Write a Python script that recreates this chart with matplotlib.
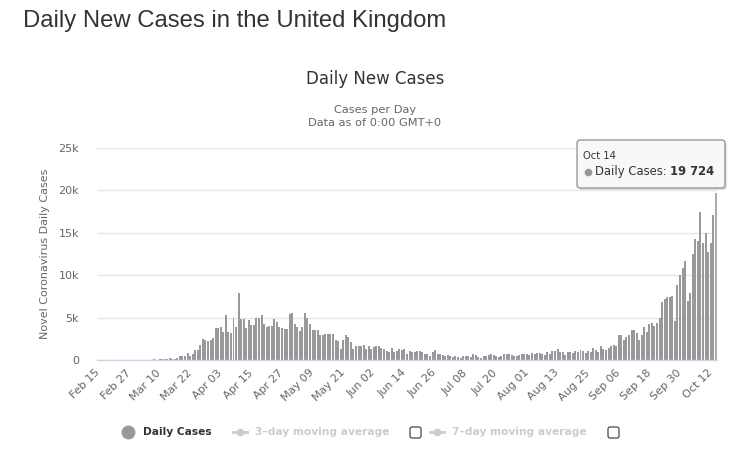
import numpy as np
import pandas as pd
import matplotlib.pyplot as plt
from matplotlib.patches import FancyBboxPatch

# Daily new cases, UK, Feb 15 - Oct 14
dates = pd.date_range("2020-02-15", "2020-10-14", freq="D")

cases_feb_mar = [0, 0, 0, 0, 0, 0, 0, 0, 0, 4, 0, 0, 2, 5, 3,
                 12, 4, 11, 34, 29, 48, 45, 69, 43, 62, 77, 60, 110, 250, 110, 60, 250]
cases_spring = [500, 500, 500, 800, 500, 700, 1200, 1200, 1800, 2500,
                2300, 2200, 2300, 2600, 3800, 3800, 3900, 3300, 5300, 3300,
                3200, 4900, 3900, 7900, 4800, 4800, 3800, 4700, 4100, 4100,
                5000, 4900, 5300, 4200, 3900, 4000, 4000, 4800, 4500, 3900,
                3800, 3600, 3600, 5400, 5600, 4300, 3900, 3400, 3900, 5500,
                4900, 4200, 3500, 3500, 3500, 3000, 2900, 3100, 3100, 3100,
                3100, 2400, 2200, 1300, 2300, 2900, 2700, 2100, 1300, 1700,
                1700, 1700, 1800, 1300, 1700]
cases_summer = [1300, 1500, 1600, 1600, 1400, 1300, 1100, 1000, 1400, 900,
                1100, 1300, 1200, 1300, 700, 1100, 1000, 1000, 1100, 1100,
                900, 700, 700, 500, 900, 1200, 700, 700, 600, 500,
                600, 500, 400, 500, 300, 200, 500, 500, 500, 300,
                700, 600, 300, 200, 500, 500, 600, 700, 600, 500,
                400, 500, 700, 700, 700, 600, 500, 500, 600, 700,
                700, 700, 600, 800, 700, 800, 800, 700, 600, 900,
                700, 1100, 1100, 1300, 900, 900, 600, 900]
cases_late_summer = [900, 800, 1100, 1000, 1200, 1100, 800, 1100, 1000, 1400,
                     1200, 900, 1700, 1300, 1200, 1400, 1700, 1800, 1700, 2900,
                     2900, 2400, 2700, 2900, 3500, 3500, 3200]
cases_autumn = [2400, 2900, 3900, 3300, 4200, 4400, 4000, 4400, 5000, 6800,
                7200, 7400, 7400, 7500, 4600, 8900, 10000, 10900, 11700, 7000,
                7900, 12500, 14300, 14000, 17500, 13800, 15000, 12700, 13800, 17100,
                19724]

daily_cases = np.array(cases_feb_mar + cases_spring + cases_summer
                       + cases_late_summer + cases_autumn)
day_labels = [d.strftime("%b %d") for d in dates]

W, H = 736, 459
fig = plt.figure(figsize=(W / 100, H / 100), dpi=100)
fig.patch.set_facecolor("white")

# plot area in pixels: x 97..717, y 148..360
ax = fig.add_axes([97 / W, (H - 360) / H, 620 / W, 212 / H])
x = np.arange(len(daily_cases))
colors = ["#999999"] * len(daily_cases)
colors[-1] = "#ababab"  # hovered point
ax.bar(x, daily_cases, width=0.78, color=colors, linewidth=0, zorder=2)

ax.set_xlim(-0.5, len(daily_cases) - 0.5)
ax.set_ylim(0, 25000)
yt = np.arange(0, 25001, 5000)
ax.set_yticks(yt)
ax.set_yticklabels(["0" if v == 0 else f"{v // 1000}k" for v in yt],
                   color="#666666", fontsize=8)
ax.grid(axis="y", color="#e6e6e6", linewidth=1, zorder=0)
ax.set_axisbelow(True)
for s in ["top", "right", "left"]:
    ax.spines[s].set_visible(False)
ax.spines["bottom"].set_color("#ccd6eb")
ax.spines["bottom"].set_linewidth(1)

xt = np.arange(0, len(daily_cases), 12)
ax.set_xticks(xt)
ax.set_xticklabels([day_labels[i] for i in xt], color="#666666", fontsize=8,
                   rotation=45, ha="right", va="center", rotation_mode="anchor")
ax.tick_params(axis="x", length=0, pad=8)
ax.tick_params(axis="y", length=0, pad=13)

# titles
fig.text(22.7 / W, 1 - 26.7 / H, "Daily New Cases in the United Kingdom",
         family="Liberation Sans", fontsize=17.2, color="#333333", va="baseline")
fig.text(375 / W, 1 - 79.5 / H, "Daily New Cases", fontsize=12,
         color="#333333", ha="center", va="center")
fig.text(375 / W, 1 - 110 / H, "Cases per Day", fontsize=8.2,
         color="#666666", ha="center", va="center")
fig.text(375 / W, 1 - 123.5 / H, "Data as of 0:00 GMT+0", fontsize=8.2,
         color="#666666", ha="center", va="center")
fig.text(45 / W, 1 - 254 / H, "Novel Coronavirus Daily Cases", fontsize=8,
         color="#666666", rotation=90, ha="center", va="center")

# overlay in pixel coordinates for tooltip and legend
ov = fig.add_axes([0, 0, 1, 1])
ov.set_xlim(0, W)
ov.set_ylim(H, 0)
ov.axis("off")

# tooltip
for i, a in enumerate([0.03, 0.05, 0.08]):
    ov.add_patch(FancyBboxPatch((577 + 1 + i * 0.5, 140 + 1 + i * 0.5), 148, 48,
                                boxstyle="round,pad=0,rounding_size=3",
                                facecolor="black", alpha=a, linewidth=0))
ov.add_patch(FancyBboxPatch((577, 140), 148, 48,
                            boxstyle="round,pad=0,rounding_size=3",
                            facecolor="#f8f8f8", edgecolor="#999999", linewidth=1))
ov.text(583, 156, dates[-1].strftime("%b %d"), fontsize=7.2, color="#333333",
        va="center")
ov.plot([588], [171.5], "o", color="#999999", markersize=4.5)
t1 = ov.text(595, 171.5, "Daily Cases: ", fontsize=8.4, color="#333333", va="center")
ov.annotate(f"{daily_cases[-1]:,}".replace(",", " "), xy=(1, 0.5), xycoords=t1,
            va="center", ha="left", fontsize=8.4, color="#333333", fontweight="bold")

# legend
ly = 432
ov.plot([128], [ly], "o", color="#999999", markersize=9)
ov.text(143, ly, "Daily Cases", fontsize=7.7, fontweight="bold", color="#333333",
        va="center")
for x0, label, bx in [(233, "3\u2013day moving average", 410),
                      (430, "7\u2013day moving average", 608)]:
    ov.plot([x0, x0 + 14], [ly, ly], color="#cccccc", linewidth=2)
    ov.plot([x0 + 7], [ly], "o", color="#cccccc", markersize=4.5)
    ov.text(x0 + 22, ly, label, fontsize=7.7, fontweight="bold", color="#cccccc",
            va="center")
    ov.add_patch(FancyBboxPatch((bx, ly - 5), 11, 11,
                                boxstyle="round,pad=0,rounding_size=2",
                                facecolor="white", edgecolor="#333333", linewidth=0.8))

fig.savefig("out.png", dpi=100)
